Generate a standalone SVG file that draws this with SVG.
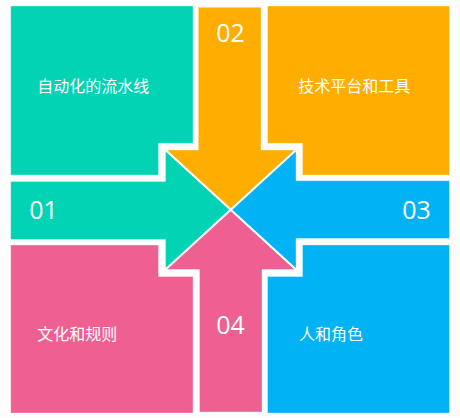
<svg xmlns="http://www.w3.org/2000/svg" width="460" height="418" viewBox="0 0 460 418">
<style>
.teal{fill:#02D3B5}
.orange{fill:#FFAE00}
.blue{fill:#01B2F4}
.pink{fill:#EE6092}
.shape{stroke:#ffffff;stroke-opacity:0.35;stroke-width:1}
.lbl{font-family:"Noto Sans CJK SC","Noto Sans",sans-serif;font-size:16px;fill:#ffffff}
.num{font-family:"Open Sans","DejaVu Sans",sans-serif;font-size:25px;fill:#ffffff;text-anchor:middle}
.sep{stroke:#ffffff;stroke-width:2.2;fill:none}
</style>
<rect x="0" y="0" width="460" height="418" fill="#FDFDFD"/>
<g id="quad-automation">
<path class="teal shape" d="M10.7,6 H193 V143.3 H158.5 V175 H10.7 Z"/>
<text class="lbl" x="37.3" y="91.5">自动化的流水线</text>
</g>
<g id="quad-platform">
<path class="orange shape" d="M267.5,6 H449.5 V175 H302.5 V143.3 H267.5 Z"/>
<text class="lbl" x="298.3" y="91.5">技术平台和工具</text>
</g>
<g id="quad-culture">
<path class="pink shape" d="M10.7,245 H158.5 V276.5 H193 V413 H10.7 Z"/>
<text class="lbl" x="37.3" y="339.5">文化和规则</text>
</g>
<g id="quad-people">
<path class="blue shape" d="M302.5,245 H449.5 V413 H267.5 V276.5 H302.5 Z"/>
<text class="lbl" x="299" y="339.5">人和角色</text>
</g>
<g id="connectors">
<g id="arrow-01">
<path class="teal shape" d="M10.7,181.5 H165.5 V150 L230.7,209.7 L165.5,269.5 V239.5 H10.7 Z"/>
<text class="num" x="43.5" y="219">01</text>
</g>
<g id="arrow-02">
<path class="orange shape" d="M198.3,7.3 H261 V150 H296 L230.7,209.7 L165.5,150 H198.3 Z"/>
<text class="num" x="230.5" y="41.7">02</text>
</g>
<g id="arrow-03">
<path class="blue shape" d="M449.5,180.7 H296 V150 L230.7,209.7 L296,269.5 V238.5 H449.5 Z"/>
<text class="num" x="416.5" y="219">03</text>
</g>
<g id="arrow-04">
<path class="pink shape" d="M199.5,412 H262 V269.5 H296 L230.7,209.7 L165.5,269.5 H199.5 Z"/>
<text class="num" x="230.5" y="334">04</text>
</g>
<path class="sep" d="M165.5,150 L296,269.5 M296,150 L165.5,269.5"/>
</g>
</svg>
